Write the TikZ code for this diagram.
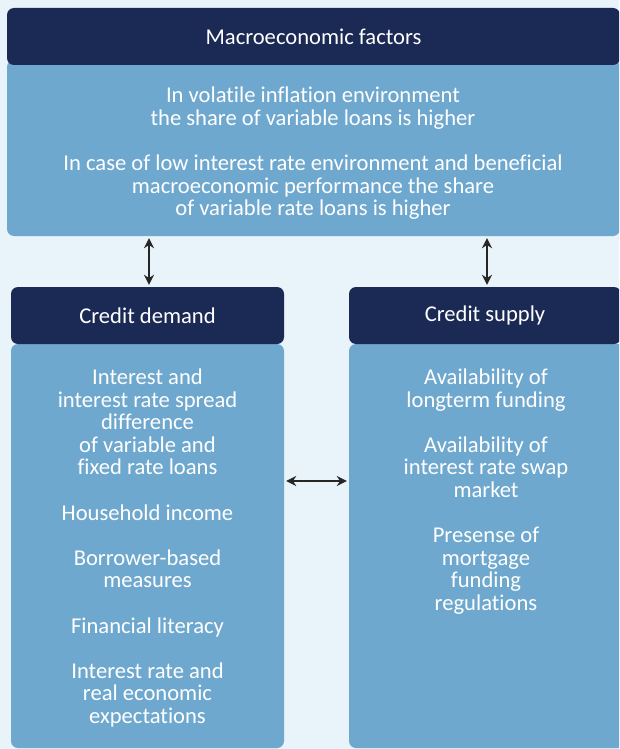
\documentclass[tikz,border=0pt]{standalone}
\usepackage{fontspec}
\setmainfont[Ligatures=NoCommon]{Carlito}
\usetikzlibrary{arrows.meta,positioning}
\definecolor{navy}{HTML}{1B2A55}
\definecolor{midblue}{HTML}{6FA8CE}
\definecolor{paleblue}{HTML}{E9F3FA}
\tikzset{
  hdr/.style = {fill=navy, rounded corners=7pt, minimum height=57pt, inner sep=0pt,
    text=white, font=\fontsize{22.6}{22.6}\selectfont},
  body/.style = {fill=midblue, rounded corners=7pt, inner sep=0pt},
  txt/.style = {text=white, align=center, inner sep=0pt,
    font=\fontsize{22.6}{22.6}\selectfont},
  biarrow/.style = {{Stealth[length=10pt,width=10pt]}-{Stealth[length=10pt,width=10pt]},
    line width=2.5pt, black!85, shorten >=2pt, shorten <=2pt}
}

\begin{document}
\begin{tikzpicture}[x=1pt, y=-1pt]
      \fill[paleblue] (0,0) rectangle (619,749);
      \useasboundingbox (0,0) rectangle (619,749);
      \clip (0,0) rectangle (619,749);
      % top block
      \node[body, minimum width=613pt, minimum height=176pt] (macrobody) at (313.5,148) {};
      \node[hdr, minimum width=613pt] (macrohdr) at (313.5,36.5) {Macroeconomic factors};
      \node[txt] (macrotxt) at (313,153.5) {In volatile inflation environment\\
        the share of variable loans is higher\\[22.6pt]
        In case of low interest rate environment and beneficial\\
        macroeconomic performance the share\\
        of variable rate loans is higher};
      % demand side
      \node[body, minimum width=273pt, minimum height=404pt] (demandbody) at (147.5,546) {};
      \node[hdr, minimum width=273pt] (demandhdr) at (147.5,315.5) {Credit demand};
      \node[txt] (demandtxt) at (147.5,548) {Interest and\\
        interest rate spread\\
        difference\\
        of variable and\\
        fixed rate loans\\[22.6pt]
        Household income\\[22.6pt]
        Borrower-based\\
        measures\\[22.6pt]
        Financial literacy\\[22.6pt]
        Interest rate and\\
        real economic\\
        expectations};
      % supply side
      \node[body, minimum width=280pt, minimum height=404pt] (supplybody) at (489,546) {};
      \node[hdr, minimum width=272pt] (supplyhdr) at (485,315.5) {Credit supply};
      \node[txt] (supplytxt) at (486,491.5) {Availability of\\
        longterm funding\\[22.6pt]
        Availability of\\
        interest rate swap\\
        market\\[22.6pt]
        Presense of\\
        mortgage\\
        funding\\
        regulations};
      % links
      \coordinate (demandlink) at (149,0);
      \coordinate (supplylink) at (487,0);
      \coordinate (midlink) at (0,481);
      \draw[biarrow] (macrobody.south -| demandlink) -- (demandhdr.north -| demandlink);
      \draw[biarrow] (macrobody.south -| supplylink) -- (supplyhdr.north -| supplylink);
      \draw[biarrow] (demandbody.east |- midlink) -- (supplybody.west |- midlink);
\end{tikzpicture}
\end{document}
